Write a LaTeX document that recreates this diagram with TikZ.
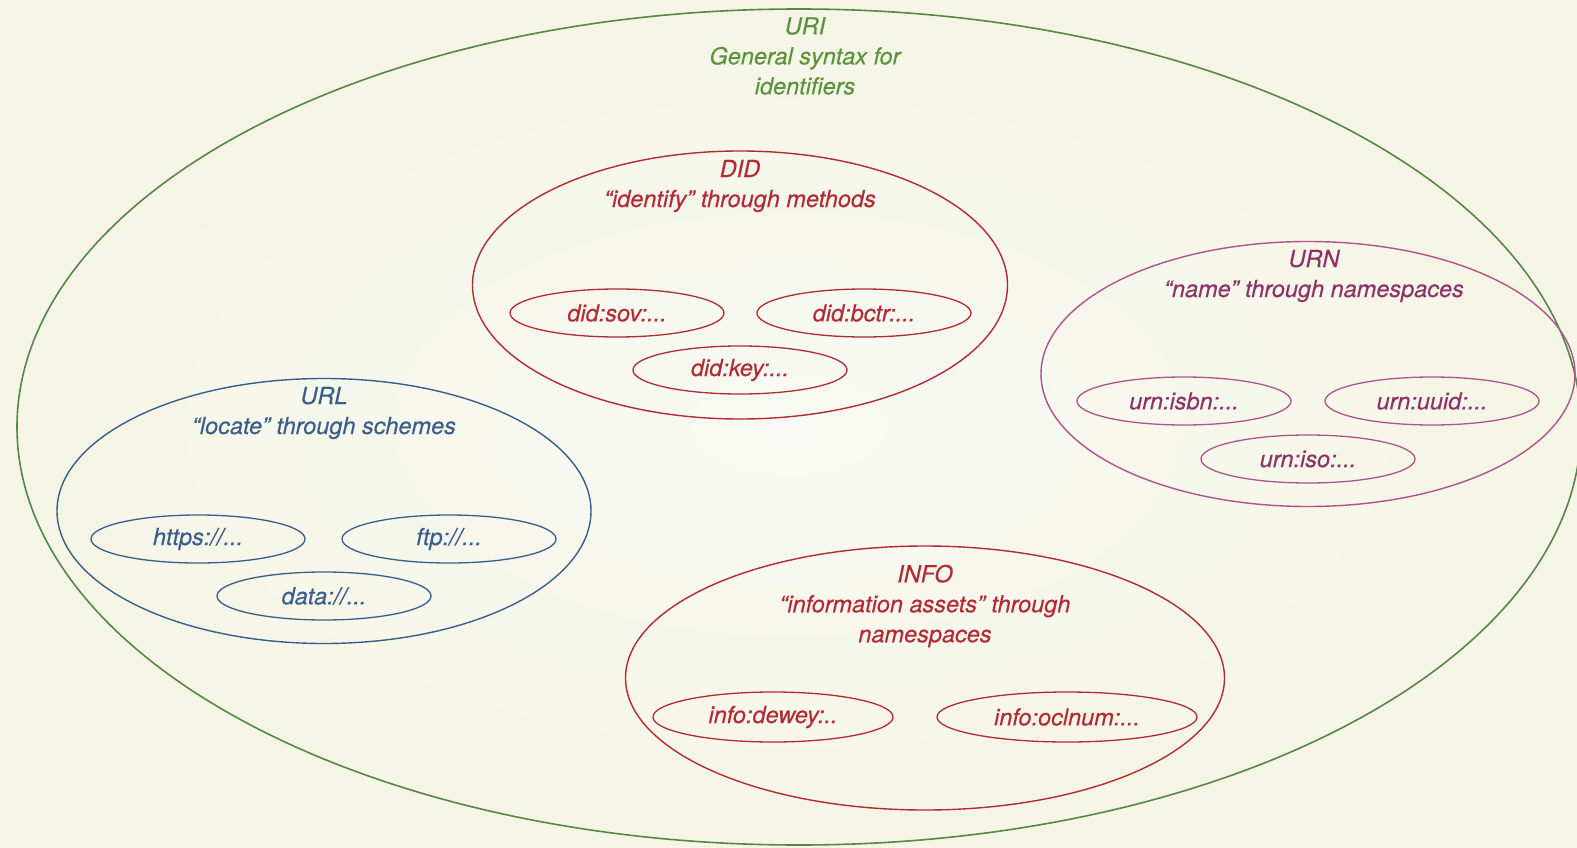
\documentclass[tikz,border=0pt]{standalone}
\usepackage{fontspec}
\setmainfont{TeX Gyre Heros}[ItalicFeatures={FakeBold=0.3}]
\usetikzlibrary{shapes.geometric}
\definecolor{bgin}{RGB}{248,249,244}
\definecolor{bgout}{RGB}{245,245,229}
\definecolor{urigreen}{RGB}{88,134,72}
\definecolor{uritext}{RGB}{92,146,62}
\definecolor{didred}{RGB}{178,42,52}
\definecolor{urlblue}{RGB}{58,94,138}
\definecolor{urnplum}{RGB}{176,82,140}
\definecolor{urntext}{RGB}{140,50,104}
\tikzset{
  x=1pt, y=-1pt,
  every node/.style={font=\fontsize{23.5}{30}\selectfont\itshape, inner sep=0pt},
  group/.style={ellipse, draw=#1, line width=1.4pt},
  member/.style={ellipse, draw=#1, line width=1.3pt, minimum width=214pt, minimum height=48pt},
  title/.style={align=center, text=#1},
}
\begin{document}
\begin{tikzpicture}
  % background
  \shade[inner color=bgin, outer color=bgout] (0,0) rectangle (1577,848);
  \useasboundingbox (0,0) rectangle (1577,848);

  % URI: the enclosing syntax
  \node[ellipse, draw=urigreen, line width=1.6pt, minimum width=1564pt, minimum height=836pt] (uri) at (799,427) {};
  \node[title=uritext] (urititle) at (805,56) {URI\\General syntax for\\identifiers};

  % DID
  \node[group=didred, minimum width=535pt, minimum height=268pt] (did) at (740,285) {};
  \node[title=didred] (didtitle) at (740,186) {DID\\“identify” through methods};
  \node[member=didred, text=didred] (didsov) at (617,313) {did:sov:...};
  \node[member=didred, text=didred] (didbctr) at (864,313) {did:bctr:...};
  \node[member=didred, text=didred] (didkey) at (740,370) {did:key:...};

  % URL
  \node[group=urlblue, minimum width=534pt, minimum height=265pt] (url) at (324,511) {};
  \node[title=urlblue] (urltitle) at (324,413) {URL\\“locate” through schemes};
  \node[member=urlblue, text=urlblue] (https) at (198,539) {https://...};
  \node[member=urlblue, text=urlblue] (ftp) at (449,539) {ftp://...};
  \node[member=urlblue, text=urlblue] (data) at (324,596) {data://...};

  % URN
  \node[group=urnplum, minimum width=534pt, minimum height=265pt] (urn) at (1308,374) {};
  \node[title=urntext] (urntitle) at (1314,276) {URN\\“name” through namespaces};
  \node[member=urnplum, text=urntext] (isbn) at (1184,401) {urn:isbn:...};
  \node[member=urnplum, text=urntext] (uuid) at (1432,401) {urn:uuid:...};
  \node[member=urnplum, text=urntext] (iso) at (1308,459) {urn:iso:...};

  % INFO
  \node[group=didred, minimum width=599pt, minimum height=264pt] (info) at (925,678) {};
  \node[title=didred] (infotitle) at (925,606) {INFO\\“information assets” through\\namespaces};
  \node[member=didred, text=didred, minimum width=240pt, minimum height=50pt] (dewey) at (773,717) {info:dewey:..};
  \node[member=didred, text=didred, minimum width=260pt, minimum height=50pt] (oclnum) at (1067,717) {info:oclnum:...};
\end{tikzpicture}
\end{document}
